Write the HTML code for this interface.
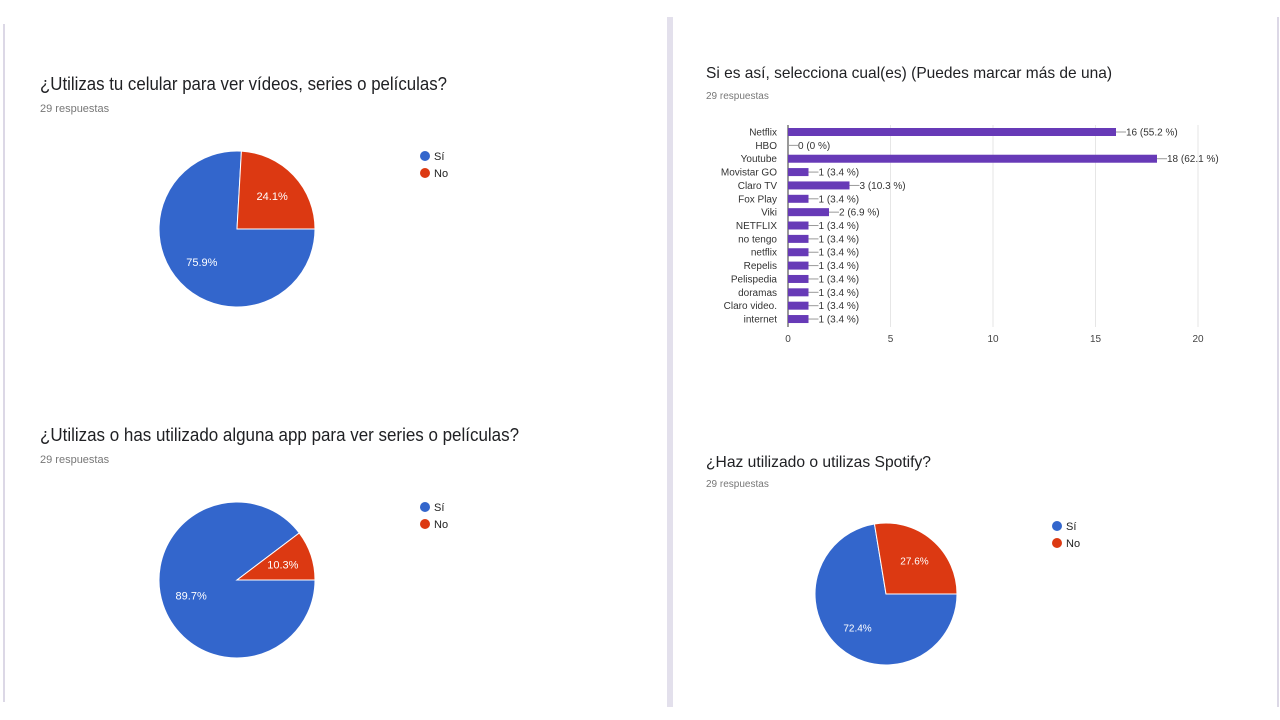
<!DOCTYPE html>
<html><head><meta charset="utf-8"><style>
body{margin:0;background:#fff;}
svg{display:block;font-family:"Liberation Sans",Arial,sans-serif;}
</style></head><body>
<svg id="s" width="1280" height="720" viewBox="0 0 1280 720">
<rect x="3" y="24" width="2" height="678" fill="#dcd8e6"/>
<rect x="667" y="17" width="6" height="690" fill="#e3e0ec"/>
<rect x="1277" y="17" width="2" height="690" fill="#dcd8e6"/>

<text x="40" y="90" font-size="18" fill="#202124" textLength="407" lengthAdjust="spacingAndGlyphs">¿Utilizas tu celular para ver vídeos, series o películas?</text>
<text x="40" y="112" font-size="11" fill="#777">29 respuestas</text>
<text x="40" y="441" font-size="18" fill="#202124" textLength="479" lengthAdjust="spacingAndGlyphs">¿Utilizas o has utilizado alguna app para ver series o películas?</text>
<text x="40" y="463" font-size="11" fill="#777">29 respuestas</text>
<text x="706" y="78" font-size="16" fill="#202124" textLength="406" lengthAdjust="spacingAndGlyphs">Si es así, selecciona cual(es) (Puedes marcar más de una)</text>
<text x="706" y="99" font-size="10" fill="#777">29 respuestas</text>
<text x="706" y="467" font-size="16" fill="#202124" textLength="225" lengthAdjust="spacingAndGlyphs">¿Haz utilizado o utilizas Spotify?</text>
<text x="706" y="487" font-size="10" fill="#777">29 respuestas</text>
<g id="charts"></g>
</svg>
<script>
const pieLabels = ["Sí","No"];
const pie1Values = [75.9, 24.1];
const pie2Values = [89.7, 10.3];
const pie3Values = [72.4, 27.6];
const barCategories = ["Netflix","HBO","Youtube","Movistar GO","Claro TV","Fox Play","Viki","NETFLIX","no tengo","netflix","Repelis","Pelispedia","doramas","Claro video.","internet"];
const barValues = [16,0,18,1,3,1,2,1,1,1,1,1,1,1,1];
const barPercents = ["55.2","0","62.1","3.4","10.3","3.4","6.9","3.4","3.4","3.4","3.4","3.4","3.4","3.4","3.4"];
const xTicks = [0,5,10,15,20];

const NS="http://www.w3.org/2000/svg";
const root=document.getElementById('charts');
function mk(tag,attrs,parent){const e=document.createElementNS(NS,tag);for(const k in attrs)e.setAttribute(k,attrs[k]);(parent||root).appendChild(e);return e;}
const colors=["#3366cc","#dc3912"];

function pie(name,values,cx,cy,r,legX,legY,fs){
  const g=mk('g',{});
  
  
  const total=values.reduce((a,b)=>a+b,0);
  let a=90;
  values.forEach((v,i)=>{
    const sweep=v/total*360;
    const a0=a*Math.PI/180, a1=(a+sweep)*Math.PI/180;
    const x0=cx+r*Math.sin(a0), y0=cy-r*Math.cos(a0);
    const x1=cx+r*Math.sin(a1), y1=cy-r*Math.cos(a1);
    const p=mk('path',{d:`M${cx},${cy}L${x0},${y0}A${r},${r} 0 ${sweep>180?1:0} 1 ${x1},${y1}Z`,fill:colors[i],stroke:'#fff','stroke-width':1},g);
    
    
    const am=(a+sweep/2)*Math.PI/180, lr=r*0.62;
    const t=mk('text',{x:cx+lr*Math.sin(am),y:cy-lr*Math.cos(am)+4,'font-size':fs,fill:'#fff','text-anchor':'middle'},g);
    t.textContent=v.toFixed(1)+'%';
    
    
    a+=sweep;
    const lg=mk('g',{},g);
    
    
    mk('circle',{cx:legX,cy:legY+i*17,r:5,fill:colors[i]},lg);
    const lt=mk('text',{x:legX+9,y:legY+i*17+4,'font-size':11,fill:'#222'},lg);
    lt.textContent=pieLabels[i];
  });
}
pie('pie1',pie1Values,237,229,78,425,156,11);
pie('pie2',pie2Values,237,580,78,425,507,11);
pie('pie3',pie3Values,886,594,71,1057,526,10);

const bx0=788, bx1=1198, maxV=20, rowTop=132, rowStep=13.36;
const xs=v=>bx0+v/maxV*(bx1-bx0);
const bg=mk('g',{});


xTicks.forEach(t=>{
  if(t>0){const gl=mk('line',{x1:xs(t),x2:xs(t),y1:125,y2:327,stroke:'#e6e6e6','stroke-width':1},bg);
  
  }
  const tl=mk('text',{x:xs(t),y:342,'font-size':10,fill:'#444','text-anchor':'middle'},bg);
  tl.textContent=t;
  
  
});
const ax=mk('line',{x1:bx0,x2:bx0,y1:125,y2:327,stroke:'#333','stroke-width':1},bg);


barCategories.forEach((c,i)=>{
  const y=rowTop+i*rowStep;
  const cl=mk('text',{x:777,y:y+3.5,'font-size':10,fill:'#333','text-anchor':'end'},bg);
  cl.textContent=c;
  
  
  const w=xs(barValues[i])-bx0;
  const r=mk('rect',{x:bx0,y:y-4,width:w,height:8,fill:'#673ab7'},bg);
  
  
  const ex=xs(barValues[i]);
  mk('line',{x1:ex,x2:ex+10,y1:y,y2:y,stroke:'#999','stroke-width':1},bg);
  const vl=mk('text',{x:ex+10,y:y+3.5,'font-size':10,fill:'#333'},bg);
  vl.textContent=barValues[i]+' ('+barPercents[i]+' %)';
  
  
});
</script>
</body></html>
